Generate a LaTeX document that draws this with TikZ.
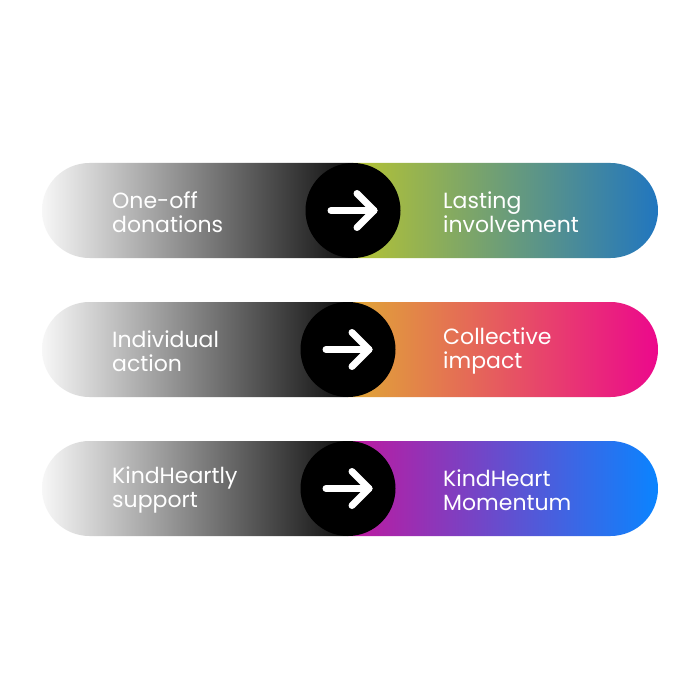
\documentclass[tikz,border=0pt]{standalone}
\usepackage{fontspec}
\setmainfont{Poppins}
\definecolor{lgray}{HTML}{F7F7F7}
\definecolor{dgray}{HTML}{0E0E0E}
\definecolor{ygreen}{HTML}{B5C333}
\definecolor{ablue}{HTML}{2176BF}
\definecolor{aorange}{HTML}{E0A835}
\definecolor{amag}{HTML}{EC088C}
\definecolor{apurp}{HTML}{C0189E}
\definecolor{bblue}{HTML}{0A84FF}
\tikzset{
  lbl/.style={text=white,anchor=west,align=left,font=\fontsize{22}{24}\selectfont,inner sep=0pt},
  hub/.style={circle,fill=black,minimum size=95pt,inner sep=0pt},
  arrowline/.style={white,line width=7pt,line cap=round,line join=round}
}
\newcommand\pillrow[7]{%
  % #1 top y, #2 circle x, #3 col A, #4 col B, #5 left text, #6 right text, #7 name
  \begin{scope}
    \clip[rounded corners=47.5pt] (42,#1) rectangle (658,#1+95);
    \shade[left color=lgray,right color=dgray] (42,#1) rectangle (#2,#1+95);
    \shade[left color=#3,right color=#4] (#2,#1) rectangle (658,#1+95);
  \end{scope}
  \node[hub] (#7c) at (#2,#1+47.5) {};
  \coordinate (#7s) at (#2-22,#1+47.5);
  \coordinate (#7t) at (#2+21,#1+47.5);
  \coordinate (#7u) at (#2+4,#1+30.5);
  \coordinate (#7d) at (#2+4,#1+64.5);
  \draw[arrowline] (#7s) -- (#7t);
  \draw[arrowline] (#7u) -- (#7t) -- (#7d);
  \node[lbl] (#7l) at (112,#1+49) {#5};
  \node[lbl] (#7r) at (443,#1+49) {#6};
}
\begin{document}
\begin{tikzpicture}[x=1pt,y=-1pt]
\useasboundingbox (0,0) rectangle (700,700);
\fill[white] (0,0) rectangle (700,700);
\pillrow{163}{353}{ygreen}{ablue}{One-off\\donations}{Lasting\\involvement}{a}
\pillrow{302}{348}{aorange}{amag}{Individual\\action}{Collective\\impact}{b}
\pillrow{441}{348}{apurp}{bblue}{KindHeartly\\support}{KindHeart\\Momentum}{c}
\end{tikzpicture}
\end{document}
